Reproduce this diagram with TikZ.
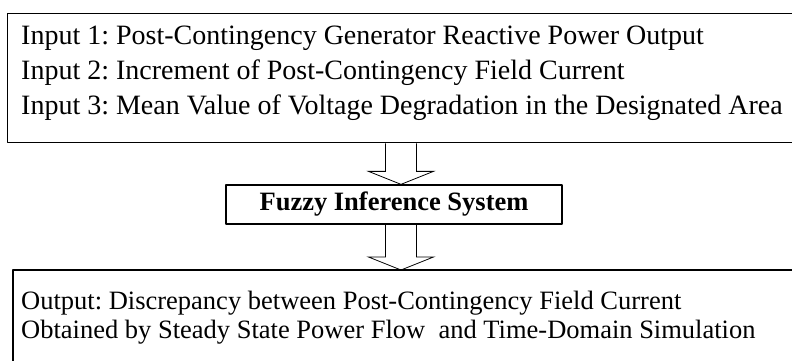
\documentclass[tikz,border=0pt]{standalone}
\usepackage{fontspec}
\setmainfont{Liberation Serif}
\usetikzlibrary{positioning,calc}
\frenchspacing

\tikzset{
  boxline/.style={draw, line width=1.3pt},
  intxt/.style={anchor=base west, inner sep=0pt, font=\fontsize{28}{33}\selectfont},
  outtxt/.style={anchor=base west, inner sep=0pt, font=\fontsize{26.5}{30}\selectfont},
  hollow/.style={draw, line width=0.8pt, line join=miter},
}
\newcommand{\hollowarrow}[2]{%
  \draw[hollow] ($(#1)+(-15.5,0)$) -- ($(#2)+(-15.5,13)$) -- ($(#2)+(-32.5,13)$)
    -- (#2) -- ($(#2)+(32.5,13)$) -- ($(#2)+(15.5,13)$) -- ($(#1)+(15.5,0)$);}

\begin{document}
\begin{tikzpicture}[x=1pt,y=1pt,line join=round]
\useasboundingbox (0,0) rectangle (792,-360);
\clip (0,0) rectangle (792,-360);
% inputs
\node[boxline, anchor=north west, minimum width=800pt, minimum height=129pt] (inbox) at (7,-13) {};
\node[intxt] (in1) at (21,-44) {Input 1: Post-Contingency Generator Reactive Power Output};
\node[intxt] (in2) at (21,-79) {Input 2: Increment of Post-Contingency Field Current};
\node[intxt] (in3) at (21,-114) {Input 3: Mean Value of Voltage Degradation in the Designated Area};
% fuzzy inference system
\node[boxline, minimum width=336pt, minimum height=39pt, inner sep=0pt,
      font=\bfseries\fontsize{26.5}{30}\selectfont] (fis) at (394,-204.5) {Fuzzy Inference System};
% output
\coordinate (outtop) at (13,-270);
\draw[boxline] (13,-400) |- (800,-270);
\node[outtxt] (out1) at (21,-309) {Output: Discrepancy between Post-Contingency Field Current};
\node[outtxt] (out2) at (21,-338) {Obtained by Steady State Power Flow \ and Time-Domain Simulation};
% arrows
\coordinate (a1top) at ([xshift=7pt]fis.north |- inbox.south);
\coordinate (a1tip) at ([xshift=7pt]fis.north);
\coordinate (a2top) at ([xshift=7pt]fis.south);
\coordinate (a2tip) at ([xshift=7pt]fis.south |- outtop);
\hollowarrow{a1top}{a1tip}
\hollowarrow{a2top}{a2tip}
\end{tikzpicture}
\end{document}
